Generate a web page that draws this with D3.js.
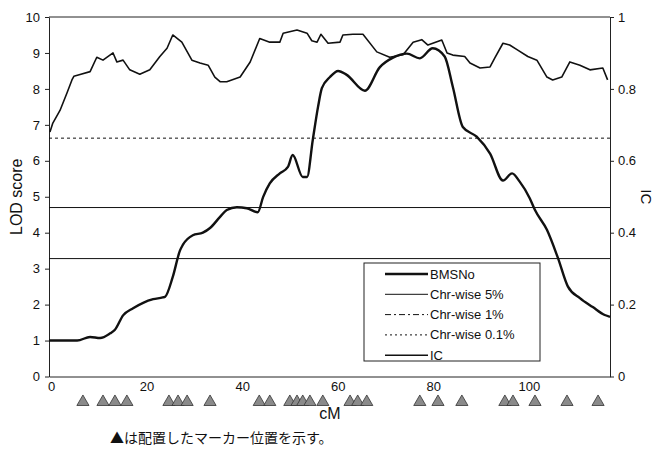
<!DOCTYPE html>
<html lang="ja">
<head>
<meta charset="utf-8">
<title>LOD score / IC</title>
<script src="https://cdn.jsdelivr.net/npm/d3@7"></script>
<style>
  body { margin: 0; background: #fff; }
  text { font-family: "Liberation Sans", Arial, sans-serif; fill: #111; }
  .jp { font-family: "Noto Sans CJK JP", sans-serif; }
</style>
</head>
<body>
<script>
// LOD curve (cM, LOD)
var lodCM  = [0, 5.9, 8.6, 10.7, 12.8, 13.8, 15.5, 17.6, 19.7, 21.8, 23.8, 24.3, 25.9, 27.4, 28.0, 30.1, 32.2, 33.7, 35.8, 37.2, 39.3, 41.4, 43.7, 44.8, 46.2, 48.3, 50.0, 51.0, 53.1, 54.0, 55.2, 56.3, 57.1, 58.8, 60.5, 62.3, 66.1, 69.2, 72.0, 74.9, 77.6, 80.3, 82.8, 84.5, 86.6, 89.5, 92.3, 95.0, 96.9, 98.5, 100.6, 101.7, 104.2, 106.5, 108.6, 111.1, 113.8, 116.3, 117.4];
var lodVal = [1.0, 1.0, 1.1, 1.07, 1.2, 1.3, 1.7, 1.9, 2.05, 2.15, 2.2, 2.22, 2.77, 3.5, 3.66, 3.93, 4.0, 4.13, 4.44, 4.63, 4.71, 4.68, 4.57, 4.99, 5.37, 5.65, 5.83, 6.16, 5.55, 5.55, 6.58, 7.5, 8.02, 8.33, 8.5, 8.39, 7.95, 8.6, 8.87, 8.98, 8.85, 9.13, 8.9, 8.06, 6.94, 6.67, 6.2, 5.45, 5.65, 5.42, 4.96, 4.63, 4.08, 3.3, 2.5, 2.18, 1.93, 1.71, 1.66];

// IC curve (cM, IC)
var icCM  = [0.2, 0.8, 2.3, 3.8, 4.8, 5.2, 6.5, 8.6, 10.0, 11.3, 13.4, 14.2, 15.5, 16.9, 19.0, 21.1, 23.2, 24.7, 25.9, 27.8, 29.9, 31.6, 33.3, 34.7, 35.8, 37.2, 40.0, 42.1, 44.1, 46.2, 48.3, 49.0, 51.9, 54.0, 55.0, 56.1, 56.9, 58.4, 60.9, 61.5, 63.6, 65.7, 68.6, 71.3, 74.1, 76.2, 78.0, 79.3, 82.2, 83.3, 84.5, 87.0, 88.1, 90.2, 92.3, 93.3, 95.0, 96.4, 98.1, 100.2, 102.1, 104.2, 105.4, 107.3, 109.0, 111.1, 113.2, 115.9, 116.9];
var icVal = [0.68, 0.705, 0.74, 0.79, 0.825, 0.835, 0.84, 0.848, 0.888, 0.88, 0.9, 0.875, 0.88, 0.853, 0.841, 0.853, 0.89, 0.913, 0.95, 0.93, 0.88, 0.872, 0.866, 0.833, 0.82, 0.82, 0.833, 0.875, 0.94, 0.93, 0.93, 0.955, 0.964, 0.955, 0.934, 0.93, 0.952, 0.927, 0.93, 0.95, 0.952, 0.952, 0.903, 0.888, 0.895, 0.93, 0.937, 0.922, 0.936, 0.9, 0.894, 0.89, 0.872, 0.858, 0.861, 0.886, 0.927, 0.922, 0.908, 0.89, 0.88, 0.833, 0.825, 0.833, 0.875, 0.866, 0.853, 0.858, 0.825];

// thresholds (LOD)
var thresholds = [
  {name: "Chr-wise 5%",   value: 3.28, dash: null},
  {name: "Chr-wise 1%",   value: 4.7,  dash: null},
  {name: "Chr-wise 0.1%", value: 6.63, dash: "3,3"}
];

// marker positions (cM)
var markers = [7.1, 11.3, 13.8, 16.3, 25.1, 27.0, 28.9, 33.7, 44.0, 46.2, 50.4, 51.9, 53.1, 54.6, 57.3, 63.0, 64.6, 66.5, 77.6, 81.4, 86.4, 95.4, 97.1, 101.7, 108.4, 114.9];

var xTicks = [0, 20, 40, 60, 80, 100];
var lodTicks = d3.range(0, 11);
var icTicks = [0, 0.2, 0.4, 0.6, 0.8, 1];

var width = 657, height = 450;
var margin = {top: 17, right: 47, bottom: 73.5, left: 49};

var svg = d3.select("body").append("svg")
  .attr("width", width)
  .attr("height", height);

var x = d3.scaleLinear().domain([0, 117.4]).range([margin.left, width - margin.right]);
var y = d3.scaleLinear().domain([0, 10]).range([height - margin.bottom, margin.top]);
var y2 = d3.scaleLinear().domain([0, 1]).range([height - margin.bottom, margin.top]);

// top frame line
svg.append("line")
  .attr("x1", x(0)).attr("x2", x(117.4))
  .attr("y1", y(10)).attr("y2", y(10))
  .attr("stroke", "#222").attr("stroke-width", 1);

// left axis
var gl = svg.append("g")
  .attr("transform", "translate(" + margin.left + ",0)")
  .call(d3.axisLeft(y).tickValues(lodTicks).tickSize(4).tickSizeOuter(0).tickPadding(5));
gl.selectAll("text").style("font-size", "13px");

// right axis
var gr = svg.append("g")
  .attr("transform", "translate(" + (width - margin.right) + ",0)")
  .call(d3.axisRight(y2).tickValues(icTicks).tickSize(4).tickSizeOuter(0).tickPadding(4)
    .tickFormat(function(d) { return d === 0 || d === 1 ? d : d.toFixed(1); }));
gr.selectAll("text").style("font-size", "13px");

// bottom axis
var gb = svg.append("g")
  .attr("transform", "translate(0," + (height - margin.bottom) + ")")
  .call(d3.axisBottom(x).tickValues(xTicks).tickSize(0).tickSizeOuter(0).tickPadding(5));
gb.selectAll("text").style("font-size", "13px").attr("dx", 2);

svg.selectAll(".domain").attr("stroke", "#222");
svg.selectAll(".tick line").attr("stroke", "#222");

// threshold lines
svg.selectAll(".thr")
  .data(thresholds)
  .enter().append("line")
  .attr("class", "thr")
  .attr("x1", x(0)).attr("x2", x(117.4))
  .attr("y1", function(d) { return y(d.value); })
  .attr("y2", function(d) { return y(d.value); })
  .attr("stroke", "#111")
  .attr("stroke-width", 1)
  .attr("stroke-dasharray", function(d) { return d.dash; });

// IC line
var icLine = d3.line()
  .x(function(d, i) { return x(icCM[i]); })
  .y(function(d) { return y2(d); });
svg.append("path")
  .datum(icVal)
  .attr("d", icLine)
  .attr("fill", "none")
  .attr("stroke", "#111")
  .attr("stroke-width", 1.6)
  .attr("stroke-linejoin", "round");

// LOD line
var lodLine = d3.line()
  .x(function(d, i) { return x(lodCM[i]); })
  .y(function(d) { return y(d); })
  .curve(d3.curveMonotoneX);
svg.append("path")
  .datum(lodVal)
  .attr("d", lodLine)
  .attr("fill", "none")
  .attr("stroke", "#111")
  .attr("stroke-width", 2.4)
  .attr("stroke-linejoin", "round");

// legend
var legendItems = [
  {name: "BMSNo", width: 2.4, dash: null},
  {name: "Chr-wise 5%", width: 1, dash: null},
  {name: "Chr-wise 1%", width: 1, dash: "6,3,2,3"},
  {name: "Chr-wise 0.1%", width: 1, dash: "2,3"},
  {name: "IC", width: 1.6, dash: null}
];
var lg = svg.append("g").attr("transform", "translate(364,263)");
lg.append("rect")
  .attr("width", 176).attr("height", 98)
  .attr("fill", "#fff").attr("stroke", "#222").attr("stroke-width", 1);
var li = lg.selectAll(".li")
  .data(legendItems)
  .enter().append("g")
  .attr("transform", function(d, i) { return "translate(0," + (11 + i * 20.3) + ")"; });
li.append("line")
  .attr("x1", 21).attr("x2", 64)
  .attr("stroke", "#111")
  .attr("stroke-width", function(d) { return d.width; })
  .attr("stroke-dasharray", function(d) { return d.dash; });
li.append("text")
  .attr("x", 66).attr("dy", "0.35em")
  .style("font-size", "13px")
  .text(function(d) { return d.name; });

// marker triangles
var tri = d3.symbol().type(d3.symbolTriangle).size(64);
svg.selectAll(".mk")
  .data(markers)
  .enter().append("path")
  .attr("d", tri)
  .attr("transform", function(d) { return "translate(" + x(d) + ",402)"; })
  .attr("fill", "#8a8a8a")
  .attr("stroke", "#333")
  .attr("stroke-width", 0.8);

// axis titles
svg.append("text")
  .attr("transform", "translate(22," + y(5) + ") rotate(-90)")
  .attr("text-anchor", "middle")
  .style("font-size", "16px")
  .text("LOD score");

svg.append("text")
  .attr("transform", "translate(641," + y(5) + ") rotate(90)")
  .attr("text-anchor", "middle")
  .style("font-size", "15px")
  .text("IC");

svg.append("text")
  .attr("x", 330).attr("y", 419)
  .attr("text-anchor", "middle")
  .style("font-size", "16px")
  .text("cM");

svg.append("text")
  .attr("class", "jp")
  .attr("x", 110).attr("y", 443)
  .style("font-size", "14px")
  .text("▲は配置したマーカー位置を示す。");
</script>
</body>
</html>
